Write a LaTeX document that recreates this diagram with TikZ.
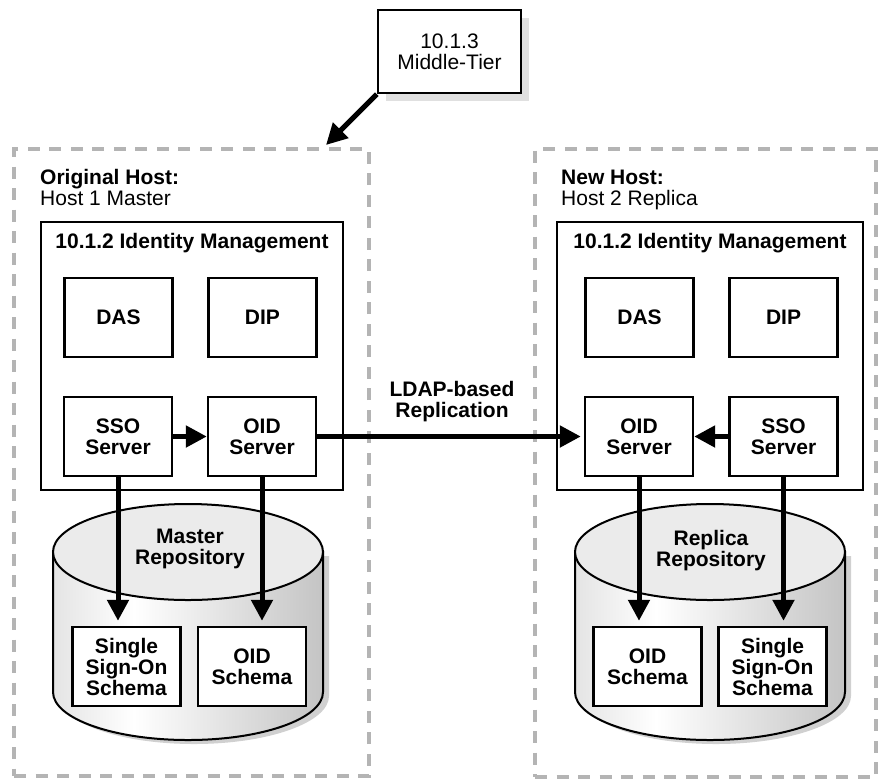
\documentclass[tikz,border=0pt]{standalone}
\usepackage{fontspec}
\setmainfont{Liberation Sans}
\usetikzlibrary{arrows.meta}
\definecolor{cylL}{HTML}{E4E4E4}
\definecolor{cylR}{HTML}{C4C4C4}
\definecolor{cyltop}{HTML}{EBEBEB}
\definecolor{cylshadow}{HTML}{D0D0D0}
\definecolor{dashgray}{HTML}{B4B4B4}
\definecolor{boxshadow}{HTML}{E0E0E0}
\pgfdeclarehorizontalshading{cylbody}{100bp}{color(0bp)=(cylL); color(25bp)=(cylL); color(40bp)=(white); color(75bp)=(cylR); color(100bp)=(cylR)}
\newcommand{\dsz}{\fontsize{21}{21}\selectfont}
\begin{document}
\begin{tikzpicture}[x=1pt,y=-1pt,
  hostbox/.style={draw=dashgray, line width=4.5pt, dash pattern=on 12pt off 9.5pt, inner sep=0pt},
  imbox/.style={draw, line width=2.4pt, fill=white, inner sep=0pt},
  box/.style={draw, line width=2.4pt, fill=white, minimum width=108pt, minimum height=79pt, inner sep=0pt, align=center, font=\dsz\bfseries},
  lbl/.style={inner sep=0pt, align=center, font=\dsz\bfseries},
  arr/.style={line width=5pt, -{Triangle[length=21pt,width=21pt]}},
  cyl/.pic={
    \fill[cylshadow] (-129,4) -- (-129,144) arc[start angle=180, end angle=360, x radius=135pt, y radius=48pt] -- (141,4) -- cycle;
    \path[shade, shading=cylbody, draw, line width=2pt] (-135,0) -- (-135,140) arc[start angle=180, end angle=360, x radius=135pt, y radius=48pt] -- (135,0) -- cycle;
    \draw[fill=cyltop, line width=2pt] (0,0) ellipse [x radius=135pt, y radius=48pt];
  }]
\useasboundingbox (0,0) rectangle (880,780);

% Middle tier
\fill[boxshadow] (386,18) rectangle (529,101);
\node[draw, line width=2.4pt, fill=white, minimum width=143pt, minimum height=83pt, inner sep=0pt, align=center, font=\dsz] (mt) at (449.5,51.5) {10.1.3\\Middle-Tier};

% Host boxes
\node[hostbox, minimum width=355pt, minimum height=627pt] (hostL) at (191.5,462.5) {};
\node[hostbox, minimum width=341pt, minimum height=628pt] (hostR) at (705.5,463) {};
\coordinate (mtend) at (326,145);
\draw[arr] (mt.south west) -- (mtend);

\node[inner sep=0pt, anchor=base west, font=\dsz\bfseries] (hlA) at (40,184) {Original Host:};
\node[inner sep=0pt, anchor=base west, font=\dsz] (hlB) at (40,205) {Host 1 Master};
\node[inner sep=0pt, anchor=base west, font=\dsz\bfseries] (hrA) at (561,184) {New Host:};
\node[inner sep=0pt, anchor=base west, font=\dsz] (hrB) at (561,205) {Host 2 Replica};

% Identity management boxes
\node[imbox, minimum width=302pt, minimum height=268pt] (imL) at (192,356) {};
\node[imbox, minimum width=306pt, minimum height=268pt] (imR) at (710,356) {};
\node[inner sep=0pt, anchor=base, font=\dsz\bfseries] (imLt) at (192,248) {10.1.2 Identity Management};
\node[inner sep=0pt, anchor=base, font=\dsz\bfseries] (imRt) at (710,248) {10.1.2 Identity Management};

\node[box] (dasL) at (118.5,317.5) {DAS};
\node[box] (dipL) at (262.5,317.5) {DIP};
\node[box] (ssoL) at (118,436.5) {SSO\\Server};
\node[box] (oidL) at (262,436.5) {OID\\Server};

\node[box] (dasR) at (639.5,317.5) {DAS};
\node[box] (dipR) at (783.5,317.5) {DIP};
\node[box] (oidR) at (639,436.5) {OID\\Server};
\node[box] (ssoR) at (783.5,436.5) {SSO\\Server};

% Cylinders
\pic at (188,552) {cyl};
\pic at (710,552) {cyl};
\node[lbl] (repL) at (190,549) {Master\\Repository};
\node[lbl] (repR) at (711,551) {Replica\\Repository};

\node[box] (ssosL) at (126.5,666.5) {Single\\Sign-On\\Schema};
\node[box] (oidsL) at (252,666.5) {OID\\Schema};
\node[box] (oidsR) at (647.5,666.5) {OID\\Schema};
\node[box] (ssosR) at (772.5,666.5) {Single\\Sign-On\\Schema};

% Arrows
\draw[arr] (ssoL.east) -- (oidL.west);
\draw[arr] (ssoR.west) -- (oidR.east);
\draw[arr] (oidL.east) -- ([xshift=-3pt]oidR.west);
\node[lbl] (ldap) at (452,402) {LDAP-based\\Replication};
\draw[arr] (ssoL.south) -- ([yshift=5pt]ssoL.south |- ssosL.north);
\draw[arr] (oidL.south) -- ([yshift=5pt]oidL.south |- oidsL.north);
\draw[arr] (oidR.south) -- ([yshift=5pt]oidR.south |- oidsR.north);
\draw[arr] (ssoR.south) -- ([yshift=5pt]ssoR.south |- ssosR.north);
\end{tikzpicture}
\end{document}
